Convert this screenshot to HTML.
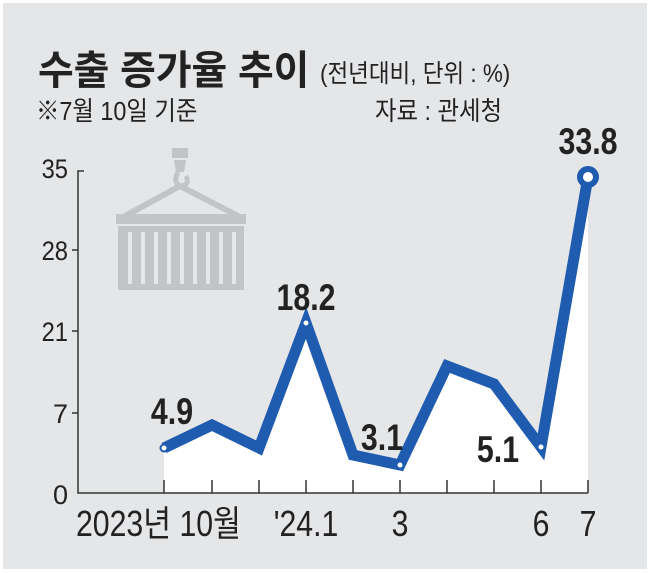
<!DOCTYPE html>
<html><head><meta charset="utf-8"><style>
html,body{margin:0;padding:0;background:#fff}
svg{display:block}
text{font-family:"Liberation Sans","Noto Sans CJK KR",sans-serif;fill:#222}
</style></head><body>
<svg width="650" height="573" viewBox="0 0 650 573">
<rect x="3" y="3" width="644" height="566" fill="#e5e6e8"/>
<text x="38" y="84" font-size="40" font-weight="bold" font-family="Noto Sans CJK KR, sans-serif" transform="translate(38 0) scale(0.97 1) translate(-38 0)">수출 증가율 추이</text>
<text x="320" y="82" font-size="25" font-family="Liberation Sans, Noto Sans CJK KR, sans-serif" transform="translate(320 0) scale(0.9 1) translate(-320 0)">(전년대비, 단위 : %)</text>
<text x="36" y="120" font-size="26" transform="translate(36 0) scale(0.9 1) translate(-36 0)">※7월 10일 기준</text>
<text x="375" y="120" font-size="26" transform="translate(375 0) scale(0.9 1) translate(-375 0)">자료 : 관세청</text>
<!-- container icon -->
<g fill="#c3c4c6" stroke="none">
<rect x="172" y="148" width="16" height="10"/>
<path d="M174 160 h12 l-2 12 h-8z"/>
<path d="M178 172 q-6 12 4 14 q8 -2 4 -10" fill="none" stroke="#c3c4c6" stroke-width="5"/>
<path d="M180 186 L125 216 M180 186 L238 216" stroke="#c3c4c6" stroke-width="6" fill="none"/>
<rect x="116" y="214" width="130" height="10"/>
<rect x="118" y="226" width="126" height="64"/>
</g>
<g stroke="#e5e6e8" stroke-width="4">
<line x1="130" y1="232" x2="130" y2="284"/><line x1="143" y1="232" x2="143" y2="284"/><line x1="156" y1="232" x2="156" y2="284"/><line x1="169" y1="232" x2="169" y2="284"/><line x1="182" y1="232" x2="182" y2="284"/><line x1="195" y1="232" x2="195" y2="284"/><line x1="208" y1="232" x2="208" y2="284"/><line x1="221" y1="232" x2="221" y2="284"/><line x1="234" y1="232" x2="234" y2="284"/>
</g>
<path d="M164 448 L212 425 L259 448 L306 323 L353 455 L400 465 L447 366 L494 384 L541 447 L588 177 L588 493 L164 493 Z" fill="#fff"/>
<g stroke="#333" stroke-width="1.5" fill="none">
<path d="M84 171 H78 V493 H588"/>
<line x1="72" y1="250" x2="78" y2="250"/>
<line x1="72" y1="331" x2="78" y2="331"/>
<line x1="72" y1="413" x2="78" y2="413"/>
<line x1="164" y1="493" x2="164" y2="480"/><line x1="212" y1="493" x2="212" y2="480"/><line x1="259" y1="493" x2="259" y2="480"/><line x1="306" y1="493" x2="306" y2="480"/><line x1="353" y1="493" x2="353" y2="480"/><line x1="400" y1="493" x2="400" y2="480"/><line x1="447" y1="493" x2="447" y2="480"/><line x1="494" y1="493" x2="494" y2="480"/><line x1="541" y1="493" x2="541" y2="480"/><line x1="588" y1="493" x2="588" y2="480"/>
</g>
<g font-size="27" text-anchor="end">
<text x="68" y="178" transform="translate(68 0) scale(0.88 1) translate(-68 0)">35</text>
<text x="68" y="260" transform="translate(68 0) scale(0.88 1) translate(-68 0)">28</text>
<text x="68" y="341" transform="translate(68 0) scale(0.88 1) translate(-68 0)">21</text>
<text x="68" y="423">7</text><text x="68" y="504">0</text>
</g>
<g font-size="36">
<text x="76" y="536" transform="translate(76 0) scale(0.84 1) translate(-76 0)">2023년 10월</text>
<text x="306" y="536" text-anchor="middle" transform="translate(306 0) scale(0.84 1) translate(-306 0)">'24.1</text>
<text x="400" y="536" text-anchor="middle" transform="translate(400 0) scale(0.84 1) translate(-400 0)">3</text>
<text x="541" y="536" text-anchor="middle" transform="translate(541 0) scale(0.84 1) translate(-541 0)">6</text>
<text x="588" y="536" text-anchor="middle" transform="translate(588 0) scale(0.84 1) translate(-588 0)">7</text>
</g>
<polyline points="164,448 212,425 259,448 306,323 353,455 400,465 447,366 494,384 541,447 588,177" fill="none" stroke="#1f5cb0" stroke-width="11" stroke-linejoin="miter"/>
<g fill="#fff" stroke="#1f5cb0" stroke-width="2">
<circle cx="164" cy="448" r="3.5"/><circle cx="306" cy="323" r="3.5"/><circle cx="400" cy="465" r="3.5"/><circle cx="541" cy="447" r="3.5"/>
</g>
<circle cx="588" cy="177" r="8" fill="#fff" stroke="#1f5cb0" stroke-width="6"/>
<g font-size="37" font-weight="bold" text-anchor="middle">
<text x="172" y="424" transform="translate(172 0) scale(0.82 1) translate(-172 0)">4.9</text>
<text x="306" y="310" transform="translate(306 0) scale(0.82 1) translate(-306 0)">18.2</text>
<text x="382" y="450" transform="translate(382 0) scale(0.82 1) translate(-382 0)">3.1</text>
<text x="498" y="462" transform="translate(498 0) scale(0.82 1) translate(-498 0)">5.1</text>
<text x="588" y="154" transform="translate(588 0) scale(0.82 1) translate(-588 0)">33.8</text>
</g>
</svg>
</body></html>
